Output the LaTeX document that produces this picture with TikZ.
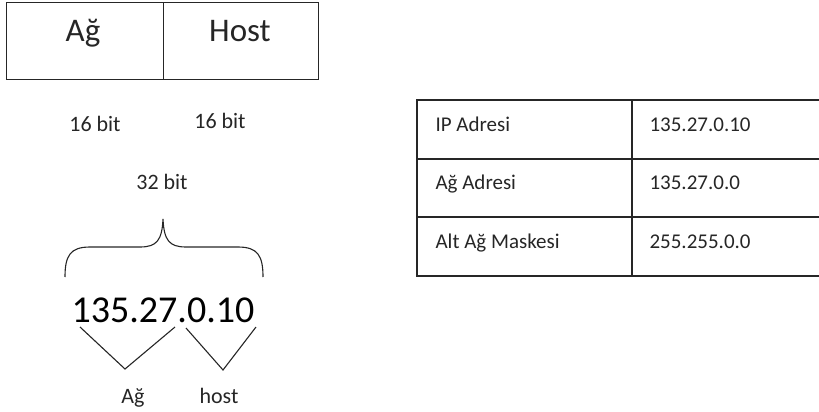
\documentclass[tikz,border=0pt]{standalone}
\usepackage{fontspec}
\setmainfont{Carlito}
\begin{document}
\begin{tikzpicture}[x=1pt,y=-1pt,
  ln/.style={line width=1.2pt, draw=black!85},
  big/.style={font=\fontsize{33}{36}\selectfont, text=black!85, anchor=base},
  small/.style={font=\fontsize{22}{24}\selectfont, text=black!85, anchor=base},
  ipnum/.style={font=\fontsize{38}{40}\selectfont, text=black, anchor=base},
  cell/.style={font=\fontsize{21}{24}\selectfont, text=black!85, anchor=base west}]
\useasboundingbox (0,0) rectangle (819,412);
\clip (0,0) rectangle (819,412);

% two-field address box
\node[ln, draw, minimum width=157pt, minimum height=77pt, anchor=north west, inner sep=0pt] (net) at (6,2) {};
\node[ln, draw, minimum width=155pt, minimum height=77pt, anchor=north west, inner sep=0pt] (hst) at (163,2) {};
\node[big] (netlbl) at (83,42) {Ağ};
\node[big] (hstlbl) at (240,42) {Host};

% field widths
\node[small] (b1) at (95,131) {16 bit};
\node[small] (b2) at (220,128) {16 bit};
\node[small] (b3) at (162,189) {32 bit};

% brace over the address
\draw[ln, line width=1.1pt] (65,277) .. controls (65,256) and (70,247) .. (90,247)
  -- (140,247) .. controls (157,247) and (162,240) .. (163,219)
  .. controls (164,240) and (169,247) .. (186,247)
  -- (238,247) .. controls (258,247) and (263,256) .. (263,277);

% dotted-decimal address
\node[ipnum] (ip) at (163,322) {135.27.0.10};

% network / host split
\coordinate (va1) at (80,327);
\coordinate (va2) at (125,369);
\coordinate (va3) at (175,327);
\coordinate (vb1) at (186,328);
\coordinate (vb2) at (223,370);
\coordinate (vb3) at (256,327);
\draw[ln, line width=1.1pt] (va1) -- (va2) -- (va3);
\draw[ln, line width=1.1pt] (vb1) -- (vb2) -- (vb3);
\node[small] (agl) at (133,403) {Ağ};
\node[small] (hol) at (219,403) {host};

% address table (right side runs past the edge)
\foreach \r/\ya/\yb in {1/100/159, 2/159/217, 3/217/276}{
  \draw[ln] (417,\ya) rectangle (632,\yb);
  \draw[ln] (632,\ya) rectangle (830,\yb);
}
\node[cell] (k1) at (432,131) {IP Adresi};
\node[cell] (v1) at (646,131) {135.27.0.10};
\node[cell] (k2) at (432,189) {Ağ Adresi};
\node[cell] (v2) at (646,189) {135.27.0.0};
\node[cell] (k3) at (432,248) {Alt Ağ Maskesi};
\node[cell] (v3) at (646,248) {255.255.0.0};
\end{tikzpicture}
\end{document}
